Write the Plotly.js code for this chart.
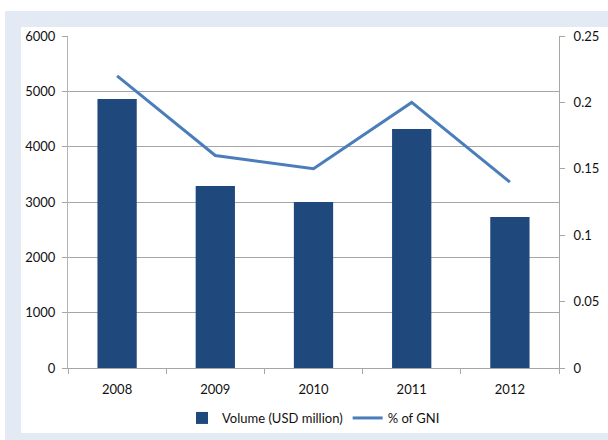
<!DOCTYPE html>
<html>
<head>
<meta charset="utf-8">
<script src="https://cdn.plot.ly/plotly-3.0.1.min.js"></script>
<style>
  html, body { margin: 0; padding: 0; background: #ffffff; }
  #wrap { position: relative; width: 608px; height: 440px; overflow: hidden; }
  #band { position: absolute; left: 5px; top: 11px; width: 603px; height: 429px; background: #e4eaf4; }
  #inner { position: absolute; left: 21px; top: 27px; width: 587px; height: 406px; background: #ffffff; }
  #chart { position: absolute; left: 0; top: 0; width: 608px; height: 440px; }
</style>
</head>
<body>
<div id="wrap">
  <div id="band"></div>
  <div id="inner"></div>
  <div id="chart"></div>
</div>
<script>
const years = ["2008", "2009", "2010", "2011", "2012"];
const volume = [4860, 3290, 3000, 4320, 2730];
const gniPct = [0.22, 0.16, 0.15, 0.20, 0.14];
const leftTicks = [0, 1000, 2000, 3000, 4000, 5000, 6000];
const rightTicks = [0, 0.05, 0.1, 0.15, 0.2, 0.25];
const rightTickText = ["0", "0.05", "0.1", "0.15", "0.2", "0.25"];

const xIdx = years.map((_, i) => i);
const boundaries = years.concat([""]).map((_, i) => i - 0.5);

const font = { family: "Lato, 'Open Sans', sans-serif", size: 13, color: "#111111" };

const traces = [
  {
    type: "bar",
    name: "Volume (USD million)",
    x: xIdx,
    y: volume,
    marker: { color: "#1f497d", line: { width: 0 } },
    width: 0.4,
    yaxis: "y"
  },
  {
    type: "scatter",
    mode: "lines",
    name: "% of GNI",
    x: xIdx,
    y: gniPct,
    line: { color: "#4a7ebb", width: 3 },
    yaxis: "y2"
  }
];

const layout = {
  width: 608,
  height: 440,
  margin: { l: 68, r: 49, t: 36, b: 72, autoexpand: false },
  paper_bgcolor: "rgba(0,0,0,0)",
  plot_bgcolor: "rgba(0,0,0,0)",
  font: font,
  showlegend: true,
  legend: {
    orientation: "h",
    x: 0.5, xanchor: "center",
    yref: "container",
    y: 0.05, yanchor: "middle",
    font: font,
    bgcolor: "rgba(0,0,0,0)",
    itemwidth: 30,
    tracegroupgap: 0
  },
  xaxis: {
    range: [-0.5, 4.5],
    tickmode: "array",
    tickvals: xIdx,
    ticktext: years,
    ticks: "",
    showline: true,
    linecolor: "#a6a6a6",
    linewidth: 1,
    showgrid: false,
    zeroline: false,
    ticklabelstandoff: 9,
    minor: {
      tickmode: "array",
      tickvals: boundaries,
      ticks: "outside",
      ticklen: 5,
      tickcolor: "#a6a6a6",
      showgrid: false
    },
    fixedrange: true
  },
  yaxis: {
    range: [0, 6000],
    tickmode: "array",
    tickvals: leftTicks,
    ticks: "outside",
    ticklen: 5,
    tickcolor: "#a6a6a6",
    showline: true,
    linecolor: "#b3b3b3",
    linewidth: 1,
    showgrid: true,
    gridcolor: "#a6a6a6",
    gridwidth: 1,
    zeroline: false,
    ticklabelstandoff: 4,
    fixedrange: true
  },
  yaxis2: {
    overlaying: "y",
    side: "right",
    range: [0, 0.25],
    tickmode: "array",
    tickvals: rightTicks,
    ticktext: rightTickText,
    ticks: "outside",
    ticklen: 5,
    tickcolor: "#a6a6a6",
    showline: true,
    linecolor: "#a6a6a6",
    linewidth: 1,
    showgrid: false,
    zeroline: false,
    ticklabelstandoff: 6,
    fixedrange: true
  }
};

Plotly.newPlot("chart", traces, layout, { displayModeBar: false, staticPlot: true });
</script>
</body>
</html>
